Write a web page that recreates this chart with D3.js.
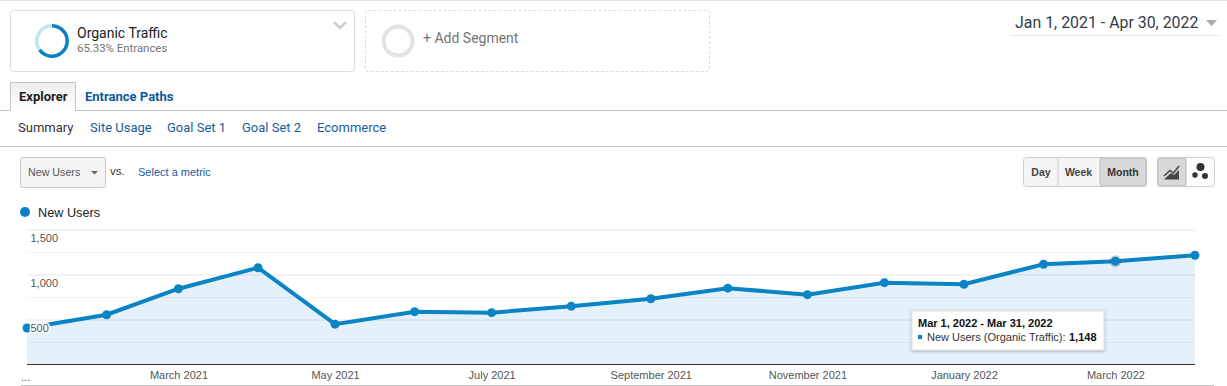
<!DOCTYPE html>
<html>
<head>
<meta charset="utf-8">
<script src="https://cdn.jsdelivr.net/npm/d3@7"></script>
<style>
body { margin: 0; background: #fff; overflow: hidden; }
svg { display: block; }
text { font-family: "Liberation Sans", Arial, sans-serif; }
.rb { font-family: Roboto, sans-serif; }
.domain { display: none; }
</style>
</head>
<body>
<div class="chart"></div>
<script>
// Values
var months = ["2021-01-01", "2021-02-01", "2021-03-01", "2021-04-01", "2021-05-01", "2021-06-01", "2021-07-01", "2021-08-01",
    "2021-09-01", "2021-10-01", "2021-11-01", "2021-12-01", "2022-01-01", "2022-02-01", "2022-03-01", "2022-04-01"];
var newUsers = [405, 553, 842, 1075, 448, 587, 576, 648, 731, 848, 776, 909, 892, 1114, 1148, 1214];
var xTicks = ["2021-03-01", "2021-05-01", "2021-07-01", "2021-09-01", "2021-11-01", "2022-01-01", "2022-03-01"];
var yTicks = [500, 1000, 1500];
var yMinor = [250, 750, 1250];
var subTabs = ["Summary", "Site Usage", "Goal Set 1", "Goal Set 2", "Ecommerce"];
var segmentShare = [65.33, 34.67];

var svgWidth = 1227;
var svgHeight = 386;
var blue = "#0a84c4";
var link = "#1a5c9a";

var parseDate = d3.timeParse("%Y-%m-%d");
var formatMonth = d3.timeFormat("%B %Y");

var svg = d3.select(".chart")
    .append("svg")
    .attr("width", svgWidth)
    .attr("height", svgHeight);

function hline(x1, x2, y, color) {
    svg.append("rect").attr("x", x1).attr("y", y).attr("width", x2 - x1).attr("height", 1).attr("fill", color);
}

function label(x, y, str, size, color, opts) {
    opts = opts || {};
    return svg.append("text")
        .attr("class", opts.roboto ? "rb" : null)
        .attr("x", x)
        .attr("y", y)
        .attr("font-size", size)
        .attr("font-weight", opts.bold ? "bold" : "normal")
        .attr("text-anchor", opts.anchor || "start")
        .attr("fill", color)
        .text(str);
}

// top strip
hline(0, svgWidth, 0, "#e3e3e3");

// segment boxes
svg.append("rect").attr("x", 10.5).attr("y", 10.5).attr("width", 344).attr("height", 61).attr("rx", 3)
    .attr("fill", "#fff").attr("stroke", "#dcdcdc");
svg.append("rect").attr("x", 365.5).attr("y", 10.5).attr("width", 344).attr("height", 61).attr("rx", 3)
    .attr("fill", "#fff").attr("stroke", "#dcdcdc").attr("stroke-dasharray", "3,2");

var arc = d3.arc().innerRadius(13.5).outerRadius(17);
var pie = d3.pie().sort(null);
svg.append("g")
    .attr("transform", "translate(52,41)")
    .selectAll("path")
    .data(pie(segmentShare))
    .enter()
    .append("path")
    .attr("d", arc)
    .attr("fill", (d, i) => i == 0 ? "#0a80c2" : "#c5e3f1");

svg.append("circle").attr("cx", 398).attr("cy", 41).attr("r", 14.5)
    .attr("fill", "none").attr("stroke", "#e3e3e3").attr("stroke-width", 4);

label(77, 38, "Organic Traffic", 14, "#222", {roboto: true});
label(77, 52, "65.33% Entrances", 11.4, "#757575", {roboto: true});
svg.append("path").attr("d", "M334,22 L340,28 L346,22").attr("fill", "none").attr("stroke", "#ccc").attr("stroke-width", 2.5);
label(423, 43, "+ Add Segment", 14, "#757575", {roboto: true});

// date range
label(1015, 28, "Jan 1, 2021 - Apr 30, 2022", 15.9, "#333c48", {roboto: true});
svg.append("path").attr("d", "M1206,20 L1217,20 L1211.5,26 Z").attr("fill", "#aaa");
hline(1011, 1220, 35, "#e8e8e8");

// tabs
var tabFill = svg.append("defs").append("linearGradient").attr("id", "tabFill").attr("x2", 0).attr("y2", 1);
tabFill.append("stop").attr("offset", 0).attr("stop-color", "#eee");
tabFill.append("stop").attr("offset", 1).attr("stop-color", "#fff");
hline(0, svgWidth, 110, "#c4c4c4");
svg.append("path").attr("d", "M10.5,111 V82.5 H75.5 V111").attr("fill", "url(#tabFill)").attr("stroke", "#c4c4c4");
label(19, 101, "Explorer", 13, "#222", {roboto: true, bold: true});
label(85, 101, "Entrance Paths", 13, "#0b5a9c", {roboto: true, bold: true});

var subTabX = [18, 90, 167, 242, 317];
subTabs.forEach(function(t, i) {
    label(subTabX[i], 132, t, 13, i == 0 ? "#333" : link, {roboto: true});
});
hline(0, svgWidth, 146, "#c4c4c4");

// metric selector
svg.append("rect").attr("x", 20.5).attr("y", 157.5).attr("width", 85).attr("height", 30).attr("rx", 2)
    .attr("fill", "#f4f4f4").attr("stroke", "#c8c8c8");
label(28, 176, "New Users", 10.7, "#555");
svg.append("path").attr("d", "M91,171 L98,171 L94.5,174.5 Z").attr("fill", "#666");
label(110, 175, "vs.", 11.5, "#333");
label(138, 176, "Select a metric", 11, link);

// Day / Week / Month buttons
svg.append("rect").attr("x", 1023.5).attr("y", 157.5).attr("width", 123).attr("height", 29).attr("rx", 3)
    .attr("fill", "#f5f5f5").attr("stroke", "#cfcfcf");
svg.append("rect").attr("x", 1100).attr("y", 158).attr("width", 46).attr("height", 28).attr("rx", 2)
    .attr("fill", "#d8d8d8").attr("stroke", "#bbb");
svg.append("rect").attr("x", 1057.5).attr("y", 158).attr("width", 1).attr("height", 28).attr("fill", "#cfcfcf");
label(1041, 176, "Day", 10.5, "#444", {bold: true, anchor: "middle"});
label(1078.5, 176, "Week", 10.5, "#444", {bold: true, anchor: "middle"});
label(1123, 176, "Month", 10.5, "#333", {bold: true, anchor: "middle"});

// chart type buttons
svg.append("rect").attr("x", 1157.5).attr("y", 157.5).attr("width", 57).attr("height", 29).attr("rx", 3)
    .attr("fill", "#fbfbfb").attr("stroke", "#cfcfcf");
svg.append("rect").attr("x", 1158).attr("y", 158).attr("width", 28).attr("height", 28).attr("rx", 2)
    .attr("fill", "#d8d8d8").attr("stroke", "#bbb");
svg.append("path").attr("d", "M1164,179.5 L1179,179.5 L1179,170 L1174,175 L1171,173 Z").attr("fill", "#444");
svg.append("path").attr("d", "M1164,176 L1170,170.5 L1173.5,173 L1179,166").attr("fill", "none").attr("stroke", "#444").attr("stroke-width", 1.5);
svg.append("circle").attr("cx", 1200.5).attr("cy", 167).attr("r", 4).attr("fill", "#333");
svg.append("circle").attr("cx", 1195).attr("cy", 175).attr("r", 2.7).attr("fill", "#333");
svg.append("circle").attr("cx", 1205).attr("cy", 176).attr("r", 3).attr("fill", "#333");

// legend
svg.append("circle").attr("cx", 25).attr("cy", 212).attr("r", 5).attr("fill", "#0a80c2");
label(38, 217, "New Users", 12.7, "#222");

// chart data
var chartData = months.map((m, i) => ({date: parseDate(m), value: newUsers[i]}));

var x = d3.scaleTime()
    .domain([parseDate(months[0]), parseDate(months[months.length - 1])])
    .range([27, 1195]);

var y = d3.scaleLinear()
    .domain([0, 1500])
    .range([364.5, 229.5]);

// gridlines
var gridMajor = d3.axisLeft(y).tickValues(yTicks).tickSize(-1168).tickFormat("");
svg.append("g").attr("transform", "translate(27,0)").call(gridMajor)
    .selectAll("line").attr("stroke", "#e6e6e6");
var gridMinor = d3.axisLeft(y).tickValues(yMinor).tickSize(-1168).tickFormat("");
svg.append("g").attr("transform", "translate(27,0)").call(gridMinor)
    .selectAll("line").attr("stroke", "#f3f3f3");

// area and line
var area = d3.area()
    .x(d => x(d.date))
    .y0(y(0))
    .y1(d => y(d.value));
var line = d3.line()
    .x(d => x(d.date))
    .y(d => y(d.value));

svg.append("path").datum(chartData).attr("d", area).attr("fill", "#0a7fd0").attr("fill-opacity", 0.105);
svg.append("path").datum(chartData).attr("d", line).attr("fill", "none").attr("stroke", blue).attr("stroke-width", 4);

// hover halo on the March 2022 point
svg.append("circle")
    .attr("cx", x(chartData[14].date))
    .attr("cy", y(chartData[14].value))
    .attr("r", 6)
    .attr("fill", "#555")
    .attr("fill-opacity", 0.3);

svg.selectAll(".dot")
    .data(chartData)
    .enter()
    .append("circle")
    .attr("class", "dot")
    .attr("cx", d => x(d.date))
    .attr("cy", d => y(d.value))
    .attr("r", 4.5)
    .attr("fill", blue);

// y axis labels sit inside the plot, under their gridline, with a white backing
var leftAxis = d3.axisRight(y).tickValues(yTicks).tickSize(0).tickPadding(0).tickFormat(d3.format(","));
var yAxisG = svg.append("g").attr("transform", "translate(30.5,0)").call(leftAxis);
yAxisG.selectAll("text")
    .attr("font-size", 11)
    .attr("font-family", "Liberation Sans")
    .attr("fill", "#555")
    .attr("y", 8.5)
    .attr("paint-order", "stroke")
    .attr("stroke", "#fff")
    .attr("stroke-width", 3)
    .attr("stroke-linejoin", "round");

// x axis
var bottomAxis = d3.axisBottom(x).tickValues(xTicks.map(parseDate)).tickSize(0).tickPadding(7).tickFormat(formatMonth);
var xAxisG = svg.append("g").attr("transform", "translate(0,364)").call(bottomAxis);
xAxisG.selectAll("text")
    .attr("font-size", 11)
    .attr("font-family", "Liberation Sans")
    .attr("fill", "#555");
hline(27, 1195, 364, "#333");
label(21, 381, "...", 11, "#555");
hline(21, 1214, 385, "#c4c4c4");

// tooltip
var shadow = svg.select("defs").append("filter").attr("id", "tipShadow")
    .attr("x", "-5%").attr("y", "-10%").attr("width", "110%").attr("height", "125%");
shadow.append("feDropShadow").attr("dx", 0).attr("dy", 1).attr("stdDeviation", 1.5).attr("flood-color", "#000").attr("flood-opacity", 0.3);
svg.append("rect").attr("x", 912).attr("y", 311).attr("width", 192).attr("height", 39)
    .attr("fill", "#fff").attr("stroke", "#ddd").attr("filter", "url(#tipShadow)");
label(918, 327, "Mar 1, 2022 - Mar 31, 2022", 11, "#111", {bold: true});
svg.append("rect").attr("x", 918).attr("y", 335).attr("width", 4).attr("height", 4).attr("fill", blue);
label(927, 341, "New Users (Organic Traffic):", 11, "#333");
label(1069, 341, d3.format(",")(newUsers[14]), 11, "#111", {bold: true});
</script>
</body>
</html>
